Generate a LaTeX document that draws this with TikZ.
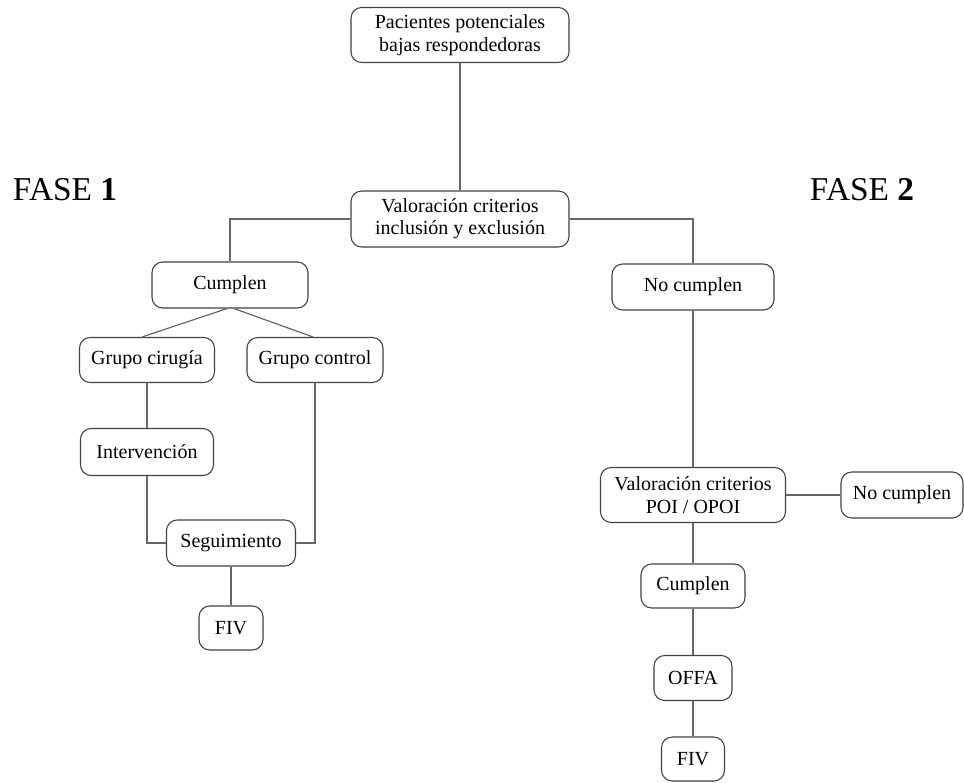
\documentclass[tikz,border=0pt]{standalone}
\usepackage{fontspec}
\setmainfont{Liberation Serif}
\begin{document}
\begin{tikzpicture}[x=0.75pt,y=-0.75pt,
  box/.style={draw=black!75, line width=0.8pt, rounded corners=8pt, align=center,
    font=\fontsize{15}{16.8}\selectfont, inner sep=0pt, fill=white},
  sz/.style 2 args={minimum width=#1*0.75pt, minimum height=#2*0.75pt},
  conn/.style={draw=black!60, line width=0.9pt},
  phase/.style={font=\fontsize{25}{30}\selectfont, inner sep=0pt}]
\useasboundingbox (0,0) rectangle (964,782);
\node[phase] (ph1) at (65,190) {FASE \textbf{1}};
\node[phase] (ph2) at (862,190) {FASE \textbf{2}};
\node[box, sz={218}{55}] (p1) at (460,35) {Pacientes potenciales\\bajas respondedoras};
\node[box, sz={218}{56}] (v1) at (460,219) {Valoración criterios\\inclusión y exclusión};
\node[box, sz={156}{46}] (c1) at (230,285) {Cumplen};
\node[box, sz={162}{46}] (n1) at (693,287) {No cumplen};
\node[box, sz={135}{45}] (gc) at (147,360) {Grupo cirugía};
\node[box, sz={136}{45}] (gk) at (315,360) {Grupo control};
\node[box, sz={133}{47}] (iv) at (147,452) {Intervención};
\node[box, sz={129}{46}] (sg) at (231,543) {Seguimiento};
\node[box, sz={64}{44}] (f1) at (231,628) {FIV};
\node[box, sz={185}{55}] (v2) at (693,495) {Valoración criterios\\POI / OPOI};
\node[box, sz={122}{46}] (n2) at (902,495) {No cumplen};
\node[box, sz={104}{44}] (c2) at (693,586) {Cumplen};
\node[box, sz={78}{45}] (of) at (693,678) {OFFA};
\node[box, sz={63}{44}] (f2) at (693,759) {FIV};
\draw[conn] (p1.south) -- (v1.north);
\draw[conn] (v1.west) -| (c1.north);
\draw[conn] (v1.east) -| (n1.north);
\draw[conn] ([xshift=-3*0.75pt]c1.south) -- ([xshift=-5*0.75pt]gc.north);
\draw[conn] ([xshift=4*0.75pt]c1.south) -- ([xshift=-2*0.75pt]gk.north);
\draw[conn] (gc.south) -- (iv.north);
\draw[conn] (iv.south) |- (sg.west);
\draw[conn] (gk.south) |- (sg.east);
\draw[conn] (sg.south) -- (f1.north);
\draw[conn] (n1.south) -- (v2.north);
\draw[conn] (v2.east) -- (n2.west);
\draw[conn] (v2.south) -- (c2.north);
\draw[conn] (c2.south) -- (of.north);
\draw[conn] (of.south) -- (f2.north);
\end{tikzpicture}
\end{document}
